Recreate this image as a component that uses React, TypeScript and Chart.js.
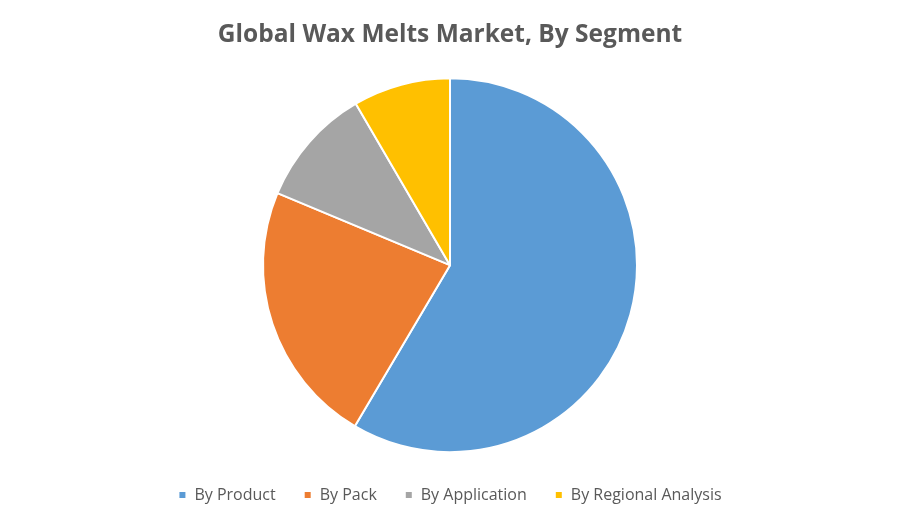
import React, { useEffect, useRef } from 'react';
import Chart from 'chart.js/auto';

const segments = ['By Product', 'By Pack', 'By Application', 'By Regional Analysis'];
const shares = [58.5, 22.8, 10.3, 8.4];
const colors = ['#5B9BD5', '#ED7D31', '#A5A5A5', '#FFC000'];

const WaxMeltsPie: React.FC = () => {
  const canvasRef = useRef<HTMLCanvasElement | null>(null);

  useEffect(() => {
    document.body.style.margin = '0';
    const ctx = canvasRef.current?.getContext('2d');
    if (!ctx) return;

    const chart = new Chart(ctx, {
      type: 'pie',
      data: {
        labels: segments,
        datasets: [
          {
            data: shares,
            backgroundColor: colors,
            borderColor: '#ffffff',
            borderWidth: 2,
            radius: 187
          }
        ]
      },
      options: {
        responsive: false,
        animation: false,
        layout: {
          padding: { top: 0, bottom: 12 }
        },
        plugins: {
          title: {
            display: true,
            text: 'Global Wax Melts Market, By Segment',
            color: '#595959',
            font: { family: 'Open Sans', size: 24.5, weight: 'bold' },
            padding: { top: 20, bottom: 22 }
          },
          legend: {
            position: 'bottom',
            labels: {
              color: '#595959',
              font: { family: 'Open Sans', size: 16 },
              boxWidth: 8,
              boxHeight: 8,
              padding: 28
            }
          },
          tooltip: { enabled: false }
        }
      }
    });

    return () => {
      chart.destroy();
    };
  }, []);

  return <canvas ref={canvasRef} width={900} height={525}></canvas>;
};

export default function App() {
  return <WaxMeltsPie />;
}
